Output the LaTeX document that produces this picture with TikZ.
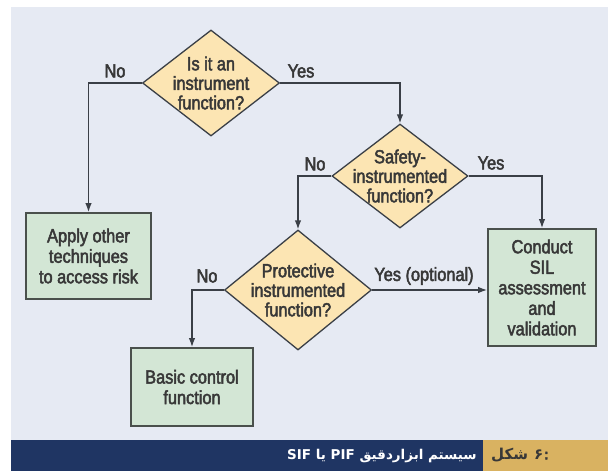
\documentclass[tikz,border=0pt]{standalone}
\usepackage{fontspec}
\setmainfont{Liberation Sans}[FakeStretch=0.86,FakeBold=2.5]
\newfontfamily\arabicfont[Script=Arabic]{DejaVu Sans Bold}
\TeXXeTstate=1
\usetikzlibrary{shapes.geometric,arrows.meta}
\definecolor{bgc}{HTML}{E6EAF3}
\definecolor{diafill}{HTML}{FCE5B3}
\definecolor{boxfill}{HTML}{D3E6D5}
\definecolor{linec}{HTML}{3A3F46}
\definecolor{boxline}{HTML}{4A504C}
\definecolor{txtc}{HTML}{383838}
\definecolor{navy}{HTML}{1F3563}
\definecolor{gold}{HTML}{D9B261}
\tikzset{
  dia/.style={shape=diamond, draw=linec, fill=diafill, line width=1.3pt, inner sep=0pt},
  boxn/.style={shape=rectangle, draw=boxline, fill=boxfill, line width=1.8pt, align=center, text=txtc,
    font=\fontsize{19}{20.5}\selectfont},
  dtext/.style={align=center, text=txtc, font=\fontsize{19}{19.5}\selectfont},
  lbl/.style={text=txtc, font=\fontsize{19}{19.5}\selectfont, inner sep=0pt},
  conn/.style={draw=linec, line width=1.3pt, -{Latex[length=9pt,width=6.5pt]}},
}
\begin{document}
\begin{tikzpicture}[x=1pt,y=-1pt]
\useasboundingbox (0,0) rectangle (608,471);
\fill[white] (0,0) rectangle (608,471);
\fill[bgc] (11,7) rectangle (608,440);
\fill[navy] (11,440) rectangle (483,471);
\fill[gold] (483,440) rectangle (608,471);

% diamonds
\node[dia, minimum width=137pt, minimum height=106pt] (d1) at (211,83) {};
\node[dtext] (t1) at (d1) {Is it an\\instrument\\function?};
\node[dia, minimum width=136pt, minimum height=104pt] (d2) at (400,176) {};
\node[dtext] (t2) at (d2) {Safety-\\instrumented\\function?};
\node[dia, minimum width=147pt, minimum height=120pt] (d3) at (298,290) {};
\node[dtext] (t3) at (d3) {Protective\\instrumented\\function?};

% boxes
\node[boxn, minimum width=125pt, minimum height=86pt] (apply) at (88.5,256) {Apply other\\techniques\\to access risk};
\node[boxn, minimum width=108pt, minimum height=117pt] (conduct) at (542,287.5) {Conduct\\SIL\\assessment\\and\\validation};
\node[boxn, minimum width=122pt, minimum height=78pt] (basic) at (192,387) {Basic control\\function};

% connectors
\draw[conn] (d1.west) -| (apply.north);
\draw[conn] (d1.east) -| (d2.north);
\draw[conn] (d2.west) -| (d3.north);
\draw[conn] (d2.east) -| (conduct.north);
\draw[conn] (d3.west) -| (basic.north);
\draw[conn] (d3.east) -- (d3.east -| conduct.west);

% labels
\node[lbl] (l1) at (115,71) {No};
\node[lbl] (l2) at (301,71) {Yes};
\node[lbl] (l3) at (315,164) {No};
\node[lbl] (l4) at (491,163) {Yes};
\node[lbl] (l5) at (207,276) {No};
\node[lbl] (l6) at (424,276) {Yes (optional)};

% caption
\node[anchor=east, text=white, inner sep=0pt, font=\fontsize{13.5}{15}\selectfont] (cap) at (477,456)
  {\arabicfont\beginR سیستم ابزاردقیق \beginL PIF\endL{} یا \beginL SIF\endL\endR};
\node[anchor=west, text=txtc, inner sep=0pt, font=\fontsize{15}{16}\selectfont] (fig) at (491,455)
  {\mbox{\arabicfont شکل}\hspace{6pt}\mbox{\arabicfont ۶}\hspace{1pt}\mbox{\bfseries :}};
\end{tikzpicture}
\end{document}
